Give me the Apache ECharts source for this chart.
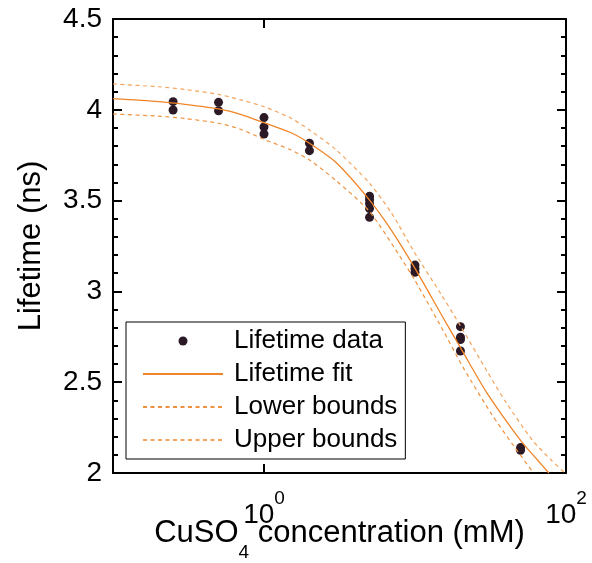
<!DOCTYPE html>
<html>
<head>
<meta charset="utf-8">
<script src="https://cdn.jsdelivr.net/npm/echarts@6/dist/echarts.min.js"></script>
<style>
html,body{margin:0;padding:0;background:#fff;}
#chart{width:592px;height:563px;}
</style>
</head>
<body>
<div id="chart"></div>
<script>
// ---- data ----
const dataConc = [0.25,0.25,0.5,0.5,1,1,1,2,2,5,5,5,5,5,10,10,10,20,20,20,20,50,50];
const dataLifetime = [4.045,3.999,4.041,3.995,3.957,3.905,3.867,3.816,3.775,3.524,3.506,3.484,3.456,3.408,3.145,3.125,3.105,2.806,2.748,2.735,2.672,2.140,2.125];

const fitConc = [0.1,0.2,0.3,0.5,0.7,1,1.5,2,3,5,7,10,15,20,30,50,65,77];
const fitLifetime = [4.061,4.045,4.030,4.005,3.975,3.929,3.875,3.816,3.71,3.503,3.335,3.127,2.87,2.69,2.44,2.18,2.07,2.0];

const lowerConc = [0.1,0.2,0.3,0.5,0.7,1,1.5,2,3,5,8.5,10,15,21,32,45,61];
const lowerLifetime = [3.977,3.965,3.952,3.926,3.893,3.837,3.78,3.724,3.61,3.439,3.155,3.06,2.80,2.576,2.327,2.15,2.0];

const upperConc = [0.1,0.2,0.3,0.5,0.7,1,1.5,2,3,5,7,10,15,20,30,40,60,80,98];
const upperLifetime = [4.142,4.127,4.112,4.085,4.055,4.017,3.955,3.889,3.78,3.595,3.43,3.21,2.98,2.81,2.56,2.39,2.18,2.07,2.0];

const xRange = [0.1, 100];
const xTickValues = [1, 100];
const xTickBase = '10';
const xTickExponents = ['0', '2'];
const yTicks = [2, 2.5, 3, 3.5, 4, 4.5];

const seriesNames = ['Lifetime data', 'Lifetime fit', 'Lower bounds', 'Upper bounds'];

// ---- chart ----
const FONT = "'Liberation Sans', Arial, Helvetica, sans-serif";
const zip = (a, b) => a.map((v, i) => [v, b[i]]);

function xLabel(v) {
  for (let i = 0; i < xTickValues.length; i++) {
    if (Math.abs(Math.log10(v) - Math.log10(xTickValues[i])) < 1e-6) {
      return '{b|' + xTickBase + '}{s|' + xTickExponents[i] + '}';
    }
  }
  return '';
}

const axisLineStyle = {color: '#000', width: 2};

function makeX(pos, showLabel) {
  return {
    type: 'log', logBase: 100, min: xRange[0], max: xRange[1], position: pos,
    axisLine: {show: true, onZero: false, lineStyle: axisLineStyle},
    axisTick: {show: true, inside: true, length: 9, lineStyle: {color: '#000', width: 2}},
    minorTick: {show: false},
    splitLine: {show: false},
    axisLabel: {
      show: showLabel, margin: 16, formatter: xLabel,
      rich: {
        b: {fontSize: 28, lineHeight: 40, verticalAlign: 'bottom', fontFamily: FONT, color: '#000'},
        s: {fontSize: 19, lineHeight: 40, verticalAlign: 'top', fontFamily: FONT, color: '#000'}
      }
    },
    name: showLabel ? '{n|CuSO}{s|4}{n| concentration (mM)}' : '',
    nameLocation: 'middle', nameGap: 45, nameMoveOverlap: false,
    nameTextStyle: {
      rich: {
        n: {fontSize: 31, lineHeight: 44, verticalAlign: 'top', fontFamily: FONT, color: '#000'},
        s: {fontSize: 19, lineHeight: 44, verticalAlign: 'bottom', fontFamily: FONT, color: '#000'}
      }
    }
  };
}

function makeY(pos, showLabel) {
  return {
    type: 'value', min: yTicks[0], max: yTicks[yTicks.length - 1], interval: yTicks[1] - yTicks[0],
    position: pos,
    axisLine: {show: true, onZero: false, lineStyle: axisLineStyle},
    axisTick: {show: true, inside: true, length: 9, lineStyle: {color: '#000', width: 2}},
    minorTick: {show: true, splitNumber: 5, length: 5, lineStyle: {color: '#000', width: 2}},
    splitLine: {show: false},
    minorSplitLine: {show: false},
    axisLabel: {show: showLabel, margin: 11, fontSize: 28, fontFamily: FONT, color: '#000'},
    name: showLabel ? 'Lifetime (ns)' : '',
    nameLocation: 'middle', nameGap: 66, nameMoveOverlap: false,
    nameTextStyle: {fontSize: 31, fontFamily: FONT, color: '#000'}
  };
}

const chart = echarts.init(document.getElementById('chart'), null, {renderer: 'canvas'});
chart.setOption({
  animation: false,
  backgroundColor: '#fff',
  grid: {left: 113, right: 26, top: 19, bottom: 90, containLabel: false, outerBoundsMode: 'none'},
  xAxis: [makeX('bottom', true), makeX('top', false)],
  yAxis: [makeY('left', true), makeY('right', false)],
  legend: {
    data: [
      {name: seriesNames[0]},
      {name: seriesNames[1], itemStyle: {opacity: 0}},
      {name: seriesNames[2], itemStyle: {opacity: 0}},
      {name: seriesNames[3], itemStyle: {opacity: 0}}
    ],
    orient: 'vertical', left: 126, top: 322,
    itemWidth: 80, itemHeight: 9, itemGap: 7,
    padding: [6, 8, 6, 16],
    borderColor: '#000', borderWidth: 1, borderRadius: 0,
    backgroundColor: '#fff',
    textStyle: {fontSize: 26, fontFamily: FONT, color: '#000', padding: [0, 0, 0, 6]}
  },
  series: [
    {
      name: seriesNames[0], type: 'scatter', xAxisIndex: 0, yAxisIndex: 0,
      data: zip(dataConc, dataLifetime), symbol: 'circle', symbolSize: 9,
      itemStyle: {color: '#2b1a26', opacity: 1}
    },
    {
      name: seriesNames[1], type: 'line', xAxisIndex: 0, yAxisIndex: 0,
      data: zip(fitConc, fitLifetime), symbol: 'none', smooth: 0.25,
      lineStyle: {color: '#ef8528', width: 1.3},
      itemStyle: {color: '#ef8528'}
    },
    {
      name: seriesNames[2], type: 'line', xAxisIndex: 0, yAxisIndex: 0,
      data: zip(lowerConc, lowerLifetime), symbol: 'none', smooth: 0.25,
      lineStyle: {color: '#f0913c', width: 1.2, type: [4, 3.5]},
      itemStyle: {color: '#f0913c'}
    },
    {
      name: seriesNames[3], type: 'line', xAxisIndex: 0, yAxisIndex: 0,
      data: zip(upperConc, upperLifetime), symbol: 'none', smooth: 0.25,
      lineStyle: {color: '#f4a35a', width: 1.2, type: [4, 3.5]},
      itemStyle: {color: '#f4a35a'}
    }
  ]
});
</script>
</body>
</html>
